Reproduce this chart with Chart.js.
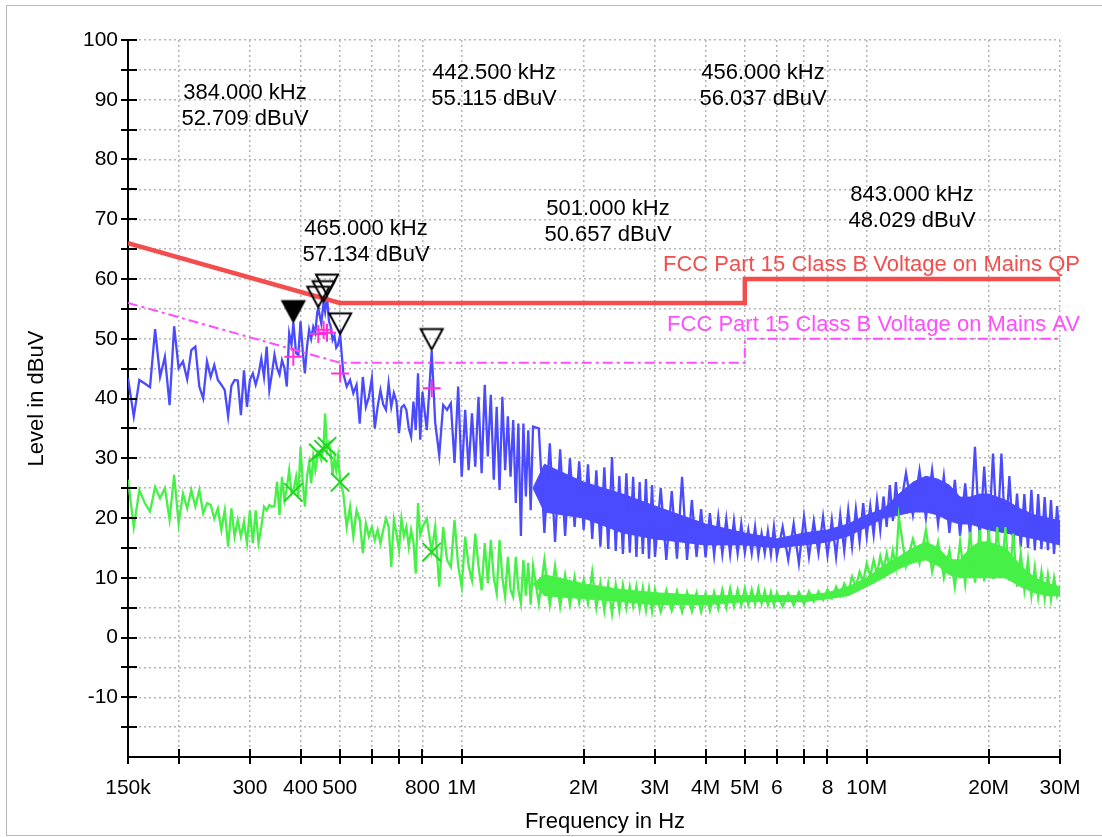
<!DOCTYPE html>
<html>
<head>
<meta charset="utf-8">
<script src="https://cdn.jsdelivr.net/npm/chart.js@4.4.0/dist/chart.umd.min.js"></script>
<style>
  html, body { margin: 0; padding: 0; background: #fff; overflow: hidden; }
  #wrap { position: relative; width: 1102px; height: 837px; }
  #frame { position: absolute; left: 6px; top: 5px; width: 1100px; height: 829px; border: 1px solid #b8b8b8; pointer-events: none; }
</style>
</head>
<body>
<div id="wrap">
  <canvas id="emiChart" width="1102" height="837"></canvas>
  <div id="frame"></div>
</div>
<script>
// scan frequencies in kHz (sparse low band, mid band, dense high band)
const freqA = [150,155,160,165,170,175,180,185,190,195,200,205,210,215,220,225,230,235,240,245,250,255,260,265,270,275,280,285,290,295,300,305,310,315,320,325,330,335,340,345,350,355,360,365,370,375,380,384,390,395,400,405,410,415,420,425,430,435,440,442.5,450,456,460,465,470,475,480,485,490,495,501];
const freqB = [510,520,530,540,550,560,570,580,590,600,610,620,630,640,650,660,670,680,690,700,710,720,730,740,750,760,770,780,790,800,820,843,860,880,900,920,940,960,980,1000,1020,1040,1060,1080,1100,1120,1140,1160,1180,1200,1220,1240,1260,1280,1300,1320,1340,1360,1380,1400,1420,1440,1460,1480,1500];
const freqC = [1550,1600,1650,1700,1750,1800,1850,1900,1950,2000,2050,2100,2150,2200,2250,2300,2350,2400,2450,2500,2550,2600,2650,2700,2750,2800,2850,2900,2950,3000,
  3100,3200,3300,3400,3500,3600,3700,3800,3900,4000,4100,4200,4300,4400,4500,4600,4700,4800,4900,5000,5100,5200,5300,5400,5500,5600,5700,5800,5900,6000,
  6200,6400,6600,6800,7000,7200,7400,7600,7800,8000,8200,8400,8600,8800,9000,9200,9400,9600,9800,10000,10200,10400,10600,10800,11000,11200,11400,11600,11800,12000,
  12500,13000,13500,14000,14500,15000,15500,16000,16500,17000,17500,18000,18500,19000,19500,20000,20500,21000,21500,22000,22500,23000,23500,24000,24500,25000,25500,26000,26500,27000,27500,28000,28500,29000,29500,30000];

// peak detector trace (dBuV)
const peakA = [43.4,37,43.1,42.5,41.9,51.6,43.6,47,38.9,52.1,45.1,46.2,43.2,48.1,48.7,42,40,46.2,43.6,45.6,43.1,42.3,41.4,37,42.1,43.1,43,37.2,44.7,38.6,43.1,44.2,42.3,44,46.7,43.6,48.7,41.4,44.2,47.3,45.1,44,46.4,45.1,42,50.9,49,52.7,47.6,47.3,52.9,48,44.2,48.7,51.5,50,52,51,54.5,55.1,52.6,56.0,54.5,57.1,53,52,49.8,50.5,48.5,49,50.7];
const peakB = [44.2,42,43.1,40.9,42.3,35.8,43.6,38.6,40.3,43.4,35,38.6,41.4,39,38.1,42.5,38.6,40.9,39.5,34.2,38.5,38.9,38.1,35,33.6,39.5,34.7,44.2,33.1,41.1,34.7,48.0,36,30.5,38.9,38.1,39.2,29.2,42,26.9,38.1,28,37.5,28.6,40.3,27.5,42.3,30.3,40.6,26.4,38.6,24.7,40.3,28,37,26.9,36.4,22.5,35.8,17,35.8,23.6,34.7,21.3,35.3];
const peakC = [35.0,17.5,32.5,16.0,31.5,17.0,30.0,18.5,29.5,18.0,29.0,16.5,28.0,15.2,28.5,14.8,30.2,14.5,27.0,14.0,27.5,14.2,26.9,13.5,26.0,14.0,26.5,13.2,25.5,13.5,
  25.0,13.0,24.5,13.2,26.9,13.0,23.0,13.5,21.5,13.4,20.8,13.8,20.2,14.0,19.8,13.9,19.5,14.1,19.0,14.2,18.0,14.1,18.5,13.8,17.4,14.1,17.8,13.9,18.5,13.6,
  18.5,13.0,19.0,12.4,20.2,13.5,19.5,14.1,20.2,13.8,19.7,13.5,20.5,14.5,21.3,15.2,21.5,16.0,22.5,16.9,22.0,17.2,23.0,18.0,23.6,18.5,25.5,19.5,26.0,20.2,
  27.5,20.5,28.0,20.0,28.0,19.0,27.0,17.5,26.4,17.0,25.8,16.9,31.9,16.5,28.6,16.3,30.8,16.5,30.8,16.3,27.0,15.8,24.1,15.2,24.0,15.0,24.7,14.6,24.0,14.8,23.5,14.6,23.0,14.0,22.0,16.0];

// average detector trace (dBuV)
const avgA = [26.4,18.5,24.7,22.5,21.1,25.2,23.3,25,19.7,27.2,19.1,24.1,21.6,24.7,21.9,24.7,20.8,22.5,22.2,19.9,21.6,18,21.3,15.2,21.6,16.9,19.7,16.9,19.4,15.8,21.3,15.8,21.3,15.8,18.5,21.9,21.3,22.2,21.9,22,26.1,20.5,26.9,23,25,28,24.1,24.5,26.9,23.6,31.9,26,21.9,27,29.2,25.8,30.3,28,30,31,29.7,31.9,37.5,31.4,32.5,30.8,27.2,30,28,30.3,26.2];
const avgB = [24.1,18.5,21.9,16.9,21.3,19.7,14.1,19.1,16.9,18.5,16.3,18,15.8,18,19.9,18.5,11.8,19.7,17.4,14.6,19.9,17,18.5,15.2,18,16,10.7,22.5,17.2,18.5,19.9,14.4,18.5,8.5,18.5,13,11.8,19.7,12,8.5,16.9,12,9.6,17.4,12,7.9,15.8,9.1,16.3,10,7.4,16.3,10,6.8,13.5,8,6.8,13.5,8,5.7,13,7,12.5,5.5,12];
const avgC = [5.7,13.0,5.5,12.0,5.2,10.5,5.5,10.2,5.8,9.6,5.7,11.0,5.0,9.1,4.5,9.0,4.0,8.8,4.5,8.8,5.0,8.5,5.2,8.5,4.8,8.3,4.6,8.2,4.4,8.0,
  4.3,7.9,4.5,7.8,4.3,7.6,4.4,7.5,4.3,7.4,4.5,7.6,4.8,8.0,5.0,8.2,5.2,8.0,5.4,8.2,5.5,8.0,5.6,8.2,5.7,7.8,5.5,7.6,5.4,7.5,
  5.2,7.4,5.4,7.6,5.6,7.7,6.0,7.7,6.3,8.0,6.6,8.5,7.0,9.0,7.6,10.2,8.5,11.0,9.4,12.4,10.2,13.0,10.6,13.6,11.3,14.1,11.5,14.6,11.8,20.2,
  12.0,16.5,12.4,18.0,11.0,16.0,10.0,14.6,8.5,16.0,9.0,17.7,9.2,18.0,9.4,18.0,9.8,18.5,10.2,18.5,9.5,17.4,8.5,14.1,8.0,13.0,7.0,11.8,6.8,11.0,6.5,10.5,6.3,10.0,7.0,8.5];

// solid core of the dense part of both traces
const bandFreqs = [1500,1600,2000,2500,3000,4000,5000,6000,7000,8000,9000,10000,11000,12000,13000,14000,15000,16000,17000,18000,19000,20000,22000,24000,26000,28000,30000];
const peakBandHi = [25,29,26,24,22,19,17.5,16.5,17.5,18,19,20.5,21.5,24,26,27,26.5,25.5,23.5,23.5,24,24,23,21.5,20.5,20,19.5];
const peakBandLo = [25,21,20,17.5,16.5,15.5,15.5,15,15.5,16,17,18.5,20,20.5,21,21,20.5,19.5,19,19,18.5,18,17.5,17,16.5,16,15.5];
const avgBandHi = [9,10.5,9,8,7.5,7,7,7,7,7.5,8.5,10,12,13.5,15,16,15,13,13,15,16,16,15,12,10,9,8.5];
const avgBandLo = [9,7,6.5,6,5.5,5.5,6,6,6,6.5,7,8.5,10,11.5,12.5,13,12,10.5,10,10,10,10,10,8.5,7.5,7,7];

// limit lines
const limitFreqs = [150, 500, 5000, 5000, 30000];
const qpLimit = [66, 56, 56, 60, 60];
const avLimit = [56, 46, 46, 50, 50];

// final measurement markers
const markerFreqs = [384, 442.5, 456, 465, 501, 843];
const peakLevels = [52.709, 55.115, 56.037, 57.134, 50.657, 48.029];
const qpResults = [47.0, 50.8, 51.5, 51.0, 44.2, 41.7];
const avResults = [24.3, 30.9, 31.5, 32.0, 26.0, 14.3];
const labelPos = [[245, 93], [494, 73], [763, 73], [366, 229], [608, 209], [912, 195]];

// x axis ticks
const xTickVals = [150e3, 200e3, 300e3, 400e3, 500e3, 600e3, 700e3, 800e3, 1e6, 2e6, 3e6, 4e6, 5e6, 6e6, 7e6, 8e6, 10e6, 20e6, 30e6];
const xTickLabels = ['150k', '', '300', '400', '500', '', '', '800', '1M', '2M', '3M', '4M', '5M', '6', '', '8', '10M', '20M', '30M'];

const FONT = '"Liberation Sans", Arial, sans-serif';
const freqs = freqA.concat(freqB, freqC);
const peakTrace = peakA.concat(peakB, peakC);
const avgTrace = avgA.concat(avgB, avgC);
const toPts = (fs, vs) => fs.map((f, i) => ({x: f * 1000, y: vs[i]}));

function triangleMark(filled) {
  const c = document.createElement('canvas');
  c.width = 28; c.height = 48;
  const g = c.getContext('2d');
  g.beginPath();
  g.moveTo(14, 23);
  g.lineTo(3, 2.5);
  g.lineTo(25, 2.5);
  g.closePath();
  g.lineWidth = 2;
  g.strokeStyle = '#000';
  if (filled) { g.fillStyle = '#000'; g.fill(); }
  g.stroke();
  return c;
}
const filledTri = triangleMark(true);
const openTri = triangleMark(false);

const axisExtras = {
  id: 'axisExtras',
  afterDraw(chart) {
    const {ctx, chartArea: a, scales: {x, y}} = chart;
    ctx.save();
    ctx.strokeStyle = '#000';
    ctx.lineWidth = 2;
    ctx.beginPath();
    y.ticks.forEach(t => {
      if (t.value <= -20) return;
      const py = Math.round(y.getPixelForValue(t.value));
      ctx.moveTo(a.left - 7, py); ctx.lineTo(a.left + 9, py);
    });
    x.ticks.forEach(t => {
      const px = Math.round(x.getPixelForValue(t.value));
      ctx.moveTo(px, a.bottom - 8); ctx.lineTo(px, a.bottom + 7);
    });
    ctx.stroke();

    ctx.font = '22px ' + FONT;
    ctx.fillStyle = '#000';
    ctx.textAlign = 'center';
    ctx.textBaseline = 'middle';
    markerFreqs.forEach((f, i) => {
      const [lx, ly] = labelPos[i];
      ctx.fillText(f.toFixed(3) + ' kHz', lx, ly);
      ctx.fillText(peakLevels[i].toFixed(3) + ' dBuV', lx, ly + 26);
    });
    ctx.fillText('Frequency in Hz', 605, 822);

    ctx.textAlign = 'right';
    ctx.fillStyle = '#f44d4d';
    ctx.fillText('FCC Part 15 Class B Voltage on Mains QP', 1080, 265);
    ctx.fillStyle = '#ff4dff';
    ctx.fillText('FCC Part 15 Class B Voltage on Mains AV', 1080, 325);
    ctx.restore();
  }
};

const gridOpts = {color: '#b4b4b4', lineWidth: 1.5, drawTicks: false};
const borderOpts = {color: '#000', width: 2, dash: [2, 3]};

new Chart(document.getElementById('emiChart'), {
  type: 'line',
  data: {
    datasets: [
      {label: 'Peak markers', data: toPts(markerFreqs, peakLevels), showLine: false,
        pointStyle: c => c.dataIndex === 0 ? filledTri : openTri, pointRadius: 12, order: 0},
      {label: 'QP results', data: toPts(markerFreqs, qpResults), showLine: false, pointStyle: 'cross',
        pointRadius: 9, pointBorderWidth: 2, borderColor: '#ff30d8', backgroundColor: '#ff30d8', order: 1},
      {label: 'AV results', data: toPts(markerFreqs, avResults), showLine: false, pointStyle: 'crossRot',
        pointRadius: 13, pointBorderWidth: 2, borderColor: '#1ed81e', backgroundColor: '#1ed81e', order: 1},
      {label: 'QP limit', data: toPts(limitFreqs, qpLimit), borderColor: '#f44d4d', borderWidth: 4.5, pointRadius: 0, order: 2},
      {label: 'AV limit', data: toPts(limitFreqs, avLimit), borderColor: '#ff4dff', borderWidth: 2,
        borderDash: [10, 4, 3, 4], pointRadius: 0, order: 2},
      {label: 'Average', data: toPts(freqs, avgTrace), borderColor: '#46f046', borderWidth: 2.3, pointRadius: 0, order: 3},
      {label: 'Peak', data: toPts(freqs, peakTrace), borderColor: '#4a4aff', borderWidth: 2.3, pointRadius: 0, order: 4},
      {label: 'Peak band', data: toPts(bandFreqs, peakBandHi), fill: '+1', backgroundColor: '#4a4aff',
        borderColor: '#4a4aff', borderWidth: 1, pointRadius: 0, order: 5},
      {label: 'Peak band low', data: toPts(bandFreqs, peakBandLo), borderColor: '#4a4aff', borderWidth: 1, pointRadius: 0, order: 5},
      {label: 'Average band', data: toPts(bandFreqs, avgBandHi), fill: '+1', backgroundColor: '#46f046',
        borderColor: '#46f046', borderWidth: 1, pointRadius: 0, order: 5},
      {label: 'Average band low', data: toPts(bandFreqs, avgBandLo), borderColor: '#46f046', borderWidth: 1, pointRadius: 0, order: 5}
    ]
  },
  options: {
    responsive: false,
    animation: false,
    devicePixelRatio: 1,
    layout: {padding: {left: 0, top: 40, right: 42, bottom: 0}},
    elements: {line: {tension: 0}},
    plugins: {legend: {display: false}, tooltip: {enabled: false}},
    scales: {
      x: {
        type: 'logarithmic', min: 150000, max: 30000000,
        afterBuildTicks: s => { s.ticks = xTickVals.map(v => ({value: v})); },
        afterFit: s => { s.height = 80; },
        ticks: {autoSkip: false, maxRotation: 0, minRotation: 0, padding: 19, color: '#000',
          font: {family: FONT, size: 21}, callback: (v, i) => xTickLabels[i]},
        grid: gridOpts,
        border: borderOpts
      },
      y: {
        min: -20, max: 100,
        afterFit: s => { s.width = 128; },
        ticks: {stepSize: 5, padding: 10, color: '#000', font: {family: FONT, size: 21},
          callback: v => (v % 10 === 0 && v > -20) ? v : ''},
        grid: gridOpts,
        border: borderOpts,
        title: {display: true, text: 'Level in dBuV', color: '#000', font: {family: FONT, size: 22},
          padding: {top: 24, bottom: 0}}
      }
    }
  },
  plugins: [axisExtras]
});
</script>
</body>
</html>
